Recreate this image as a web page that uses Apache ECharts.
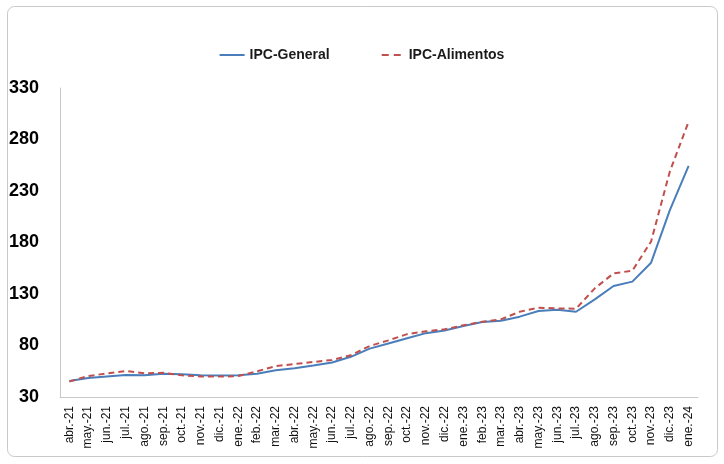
<!DOCTYPE html>
<html>
<head>
<meta charset="utf-8">
<script src="https://cdn.jsdelivr.net/npm/echarts@6/dist/echarts.min.js"></script>
<style>
  html, body { margin: 0; padding: 0; background: #ffffff; }
  #chart { width: 724px; height: 464px; }
</style>
</head>
<body>
<div id="chart"></div>
<script>
// Monthly categories (abr.-21 .. ene.-24)
const months = [
  'abr.-21', 'may.-21', 'jun.-21', 'jul.-21', 'ago.-21', 'sep.-21', 'oct.-21', 'nov.-21', 'dic.-21',
  'ene.-22', 'feb.-22', 'mar.-22', 'abr.-22', 'may.-22', 'jun.-22', 'jul.-22', 'ago.-22', 'sep.-22',
  'oct.-22', 'nov.-22', 'dic.-22', 'ene.-23', 'feb.-23', 'mar.-23', 'abr.-23', 'may.-23', 'jun.-23',
  'jul.-23', 'ago.-23', 'sep.-23', 'oct.-23', 'nov.-23', 'dic.-23', 'ene.-24'
];

// IPC general index
const ipcGeneral = [
  45.5, 48.4, 50, 51.4, 51, 52.6, 52, 51, 50.8,
  51, 52.6, 56, 58, 60.5, 63.5, 69, 77, 82,
  87, 92, 94.5, 99, 102.8, 104, 108, 113.5, 114.8,
  112.8, 124.8, 137.8, 142, 160.4, 211.5, 254.3
];

// IPC food index
const ipcAlimentos = [
  45, 50.4, 52.8, 55.2, 53, 53.5, 51, 50, 49.8,
  50.3, 55, 60, 62, 64, 66, 70.5, 79.5, 85,
  91, 93.8, 95.7, 99.6, 103, 105.4, 112.8, 116.7, 116,
  115.7, 135.5, 150, 152.6, 181, 249, 297.3
];

// Value axis range
const yMin = 30;
const yMax = 330;
const yStep = 50;

const BLUE = '#4a7ebb';
const RED = '#c0504d';

const chart = echarts.init(document.getElementById('chart'), null, { renderer: 'canvas' });

chart.setOption({
  animation: false,
  backgroundColor: '#ffffff',
  textStyle: { fontFamily: 'Liberation Sans, Arial, sans-serif' },
  graphic: [{
    type: 'rect',
    silent: true,
    shape: { x: 7.5, y: 6.5, width: 710, height: 450, r: 7 },
    style: { fill: 'none', stroke: '#c9c9c9', lineWidth: 1 }
  }],
  legend: {
    top: 43,
    left: 'center',
    itemWidth: 25,
    itemHeight: 2,
    itemGap: 52,
    textStyle: { fontSize: 14, fontWeight: 'bold', color: '#1a1a1a', fontFamily: 'Liberation Sans, Arial, sans-serif' },
    data: [
      { name: 'IPC-General', icon: 'rect', itemStyle: { color: BLUE } },
      { name: 'IPC-Alimentos', icon: 'path://M0,0h7v2h-7z M12,0h7v2h-7z', itemStyle: { color: RED } }
    ]
  },
  grid: { left: 60, right: 26, top: 88, bottom: 67, containLabel: false },
  xAxis: {
    type: 'category',
    data: months,
    boundaryGap: true,
    axisLine: { lineStyle: { color: '#c8c8c8', width: 1 } },
    axisTick: { show: false },
    axisLabel: {
      interval: 0,
      rotate: 90,
      margin: 9,
      fontSize: 12,
      color: '#111111',
      fontFamily: 'Liberation Sans, Arial, sans-serif'
    },
    splitLine: { show: false }
  },
  yAxis: {
    type: 'value',
    min: yMin,
    max: yMax,
    interval: yStep,
    axisLine: { show: true, lineStyle: { color: '#c8c8c8', width: 1 } },
    axisTick: { show: false },
    splitLine: { show: false },
    axisLabel: {
      margin: 21,
      fontSize: 18,
      fontWeight: 'bold',
      color: '#000000',
      fontFamily: 'Liberation Sans, Arial, sans-serif'
    }
  },
  series: [
    {
      name: 'IPC-General',
      type: 'line',
      data: ipcGeneral,
      symbol: 'none',
      smooth: false,
      lineStyle: { color: BLUE, width: 2 },
      itemStyle: { color: BLUE }
    },
    {
      name: 'IPC-Alimentos',
      type: 'line',
      data: ipcAlimentos,
      symbol: 'none',
      smooth: false,
      lineStyle: { color: RED, width: 2, type: [6, 4] },
      itemStyle: { color: RED }
    }
  ]
});
</script>
</body>
</html>
